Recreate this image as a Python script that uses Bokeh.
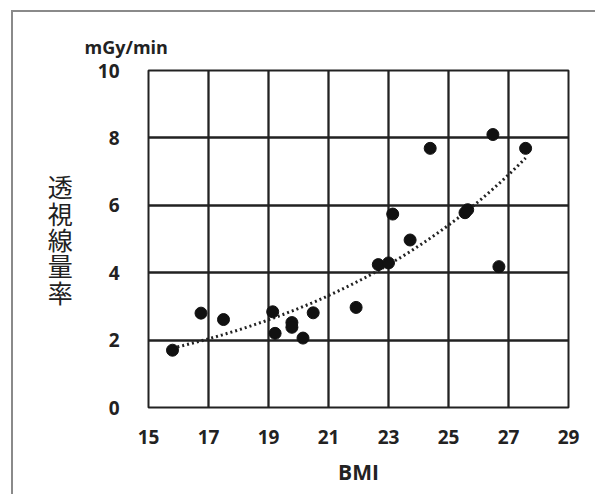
import numpy as np
from bokeh.plotting import figure
from bokeh.models import ColumnDataSource, FixedTicker
from bokeh.layouts import column
from bokeh.embed import file_html
from bokeh.resources import INLINE

# data
bmi = [15.80, 16.75, 17.50, 19.14, 19.22, 19.78, 19.78, 20.15, 20.49, 21.92,
       22.66, 23.00, 23.14, 23.72, 24.39, 25.55, 25.64, 26.48, 26.68, 27.57]
dose = [1.70, 2.80, 2.61, 2.84, 2.20, 2.52, 2.38, 2.06, 2.81, 2.97,
        4.24, 4.29, 5.74, 4.97, 7.69, 5.78, 5.87, 8.10, 4.18, 7.69]
x_ticks = [15, 17, 19, 21, 23, 25, 27, 29]
y_ticks = [0, 2, 4, 6, 8, 10]
x_title = "BMI"
y_title = "透視線量率"
unit_label = "mGy/min"

# exponential trend line (least squares on log y, as a spreadsheet trendline)
b, ln_a = np.polyfit(np.array(bmi), np.log(np.array(dose)), 1)
tx = np.linspace(min(bmi), max(bmi), 100)
ty = np.exp(ln_a) * np.exp(b * tx)

p = figure(width=582, height=482, x_range=(15, 29), y_range=(0, 10),
           output_backend="svg", toolbar_location=None,
           min_border_left=135, min_border_right=27,
           min_border_top=58, min_border_bottom=87)
p.background_fill_color = "white"
p.border_fill_color = "white"
p.outline_line_color = "#222222"
p.outline_line_width = 2

p.title.text = unit_label
p.title.align = "left"
p.title.offset = -64
p.title.standoff = 23
p.title.text_font = "Open Sans"
p.title.text_font_size = "18px"
p.title.text_font_style = "bold"
p.title.text_color = "#222222"

for ax in (p.xaxis[0], p.yaxis[0]):
    ax.axis_line_color = None
    ax.major_tick_line_color = None
    ax.minor_tick_line_color = None
    ax.major_label_text_font = "Open Sans"
    ax.major_label_text_font_size = "19px"
    ax.major_label_text_color = "#222222"
    ax.major_label_text_font_style = "bold"

p.xaxis.ticker = FixedTicker(ticks=x_ticks)
p.yaxis.ticker = FixedTicker(ticks=y_ticks)
p.xaxis.major_label_standoff = 16
p.yaxis.major_label_standoff = 23

p.xaxis.axis_label = x_title
p.xaxis.axis_label_text_font = "Open Sans"
p.xaxis.axis_label_text_font_size = "21px"
p.xaxis.axis_label_text_font_style = "bold"
p.xaxis.axis_label_text_color = "#222222"
p.xaxis.axis_label_standoff = 11

p.yaxis.axis_label = "\n".join(y_title)
p.yaxis.axis_label_orientation = "horizontal"
p.yaxis.axis_label_text_font = "Noto Sans CJK JP"
p.yaxis.axis_label_text_font_size = "25px"
p.yaxis.axis_label_text_font_style = "normal"
p.yaxis.axis_label_text_color = "#222222"
p.yaxis.axis_label_text_line_height = 0.73
p.yaxis.axis_label_standoff = 22

p.xgrid.ticker = FixedTicker(ticks=x_ticks)
p.ygrid.ticker = FixedTicker(ticks=y_ticks)
for g in (p.xgrid[0], p.ygrid[0]):
    g.grid_line_color = "#222222"
    g.grid_line_width = 2.3
    g.grid_line_alpha = 1.0

p.line(tx, ty, line_color="#222222", line_width=3, line_dash="2 3")
src = ColumnDataSource(dict(x=bmi, y=dose))
p.scatter("x", "y", source=src, size=12, fill_color="#111111", line_color="#111111")

layout = column(p, styles={"margin-left": "11px", "margin-top": "10px",
                           "border-left": "2px solid #8a8a8a",
                           "border-top": "2px solid #8a8a8a"})

open("out.html", "w").write(file_html(layout, INLINE))
